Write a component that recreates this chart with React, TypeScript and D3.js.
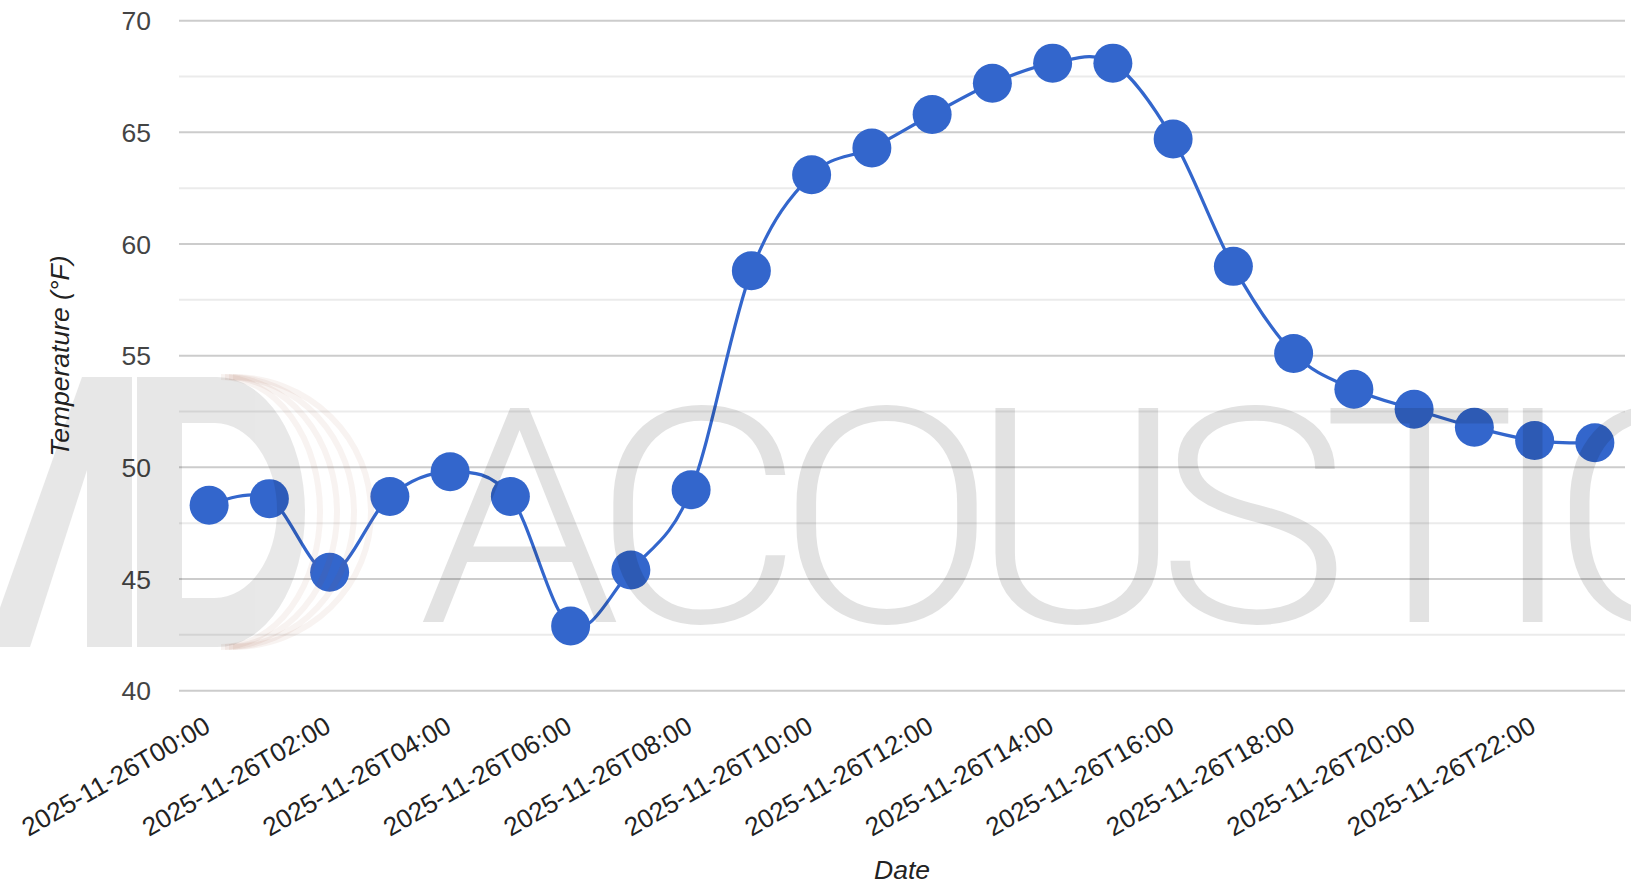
import React from "react";
import * as d3 from "d3";

const categories: string[] = [
  "2025-11-26T00:00", "2025-11-26T01:00", "2025-11-26T02:00", "2025-11-26T03:00",
  "2025-11-26T04:00", "2025-11-26T05:00", "2025-11-26T06:00", "2025-11-26T07:00",
  "2025-11-26T08:00", "2025-11-26T09:00", "2025-11-26T10:00", "2025-11-26T11:00",
  "2025-11-26T12:00", "2025-11-26T13:00", "2025-11-26T14:00", "2025-11-26T15:00",
  "2025-11-26T16:00", "2025-11-26T17:00", "2025-11-26T18:00", "2025-11-26T19:00",
  "2025-11-26T20:00", "2025-11-26T21:00", "2025-11-26T22:00", "2025-11-26T23:00",
];
const temperatures: number[] = [
  48.3, 48.6, 45.3, 48.7, 49.8, 48.7, 42.9, 45.4, 49.0, 58.8, 63.1, 64.3,
  65.8, 67.2, 68.1, 68.1, 64.7, 59.0, 55.1, 53.5, 52.6, 51.8, 51.2, 51.1,
];
const yTicks: number[] = [40, 45, 50, 55, 60, 65, 70];
const yMinorTicks: number[] = [42.5, 47.5, 52.5, 57.5, 62.5, 67.5];
const xTickLabels: string[] = categories.filter((_, i) => i % 2 === 0);
const xTitle = "Date";
const yTitle = "Temperature (°F)";
const watermarkText = "ACOUSTICS";

const W = 1631;
const H = 886;
const FONT = "'Liberation Sans', Arial, sans-serif";

export default function App() {
  const x = d3.scaleBand<string>().domain(categories).range([179, 1625]);
  const y = d3.scaleLinear().domain([40, 70]).range([690.7, 20.7]);
  const cx = (c: string) => (x(c) as number) + x.bandwidth() / 2;

  const pts: [number, number][] = categories.map((c, i) => [cx(c), y(temperatures[i])]);
  const line = d3.line().curve(d3.curveCardinal.tension(0))(pts) as string;

  return (
    <svg
      width={W}
      height={H}
      style={{ position: "absolute", left: 0, top: 0, background: "#fff" }}
      fontFamily={FONT}
    >
      <rect x={0} y={0} width={W} height={H} fill="#fff" />
      {yMinorTicks.map((t) => (
        <line key={"m" + t} x1={179} x2={1625} y1={y(t)} y2={y(t)} stroke="#ebebeb" strokeWidth={2} />
      ))}
      {yTicks.map((t) => (
        <line key={"g" + t} x1={179} x2={1625} y1={y(t)} y2={y(t)} stroke="#cccccc" strokeWidth={2} />
      ))}
      {yTicks.map((t) => (
        <text key={"yl" + t} x={151} y={y(t) + 9.5} textAnchor="end" fontSize={26.5} fill="#444">
          {t}
        </text>
      ))}
      {xTickLabels.map((c) => (
        <text
          key={"xl" + c}
          transform={`translate(${cx(c) + 3},731) rotate(-30)`}
          textAnchor="end"
          fontSize={26}
          fill="#222"
        >
          {c}
        </text>
      ))}
      <text x={902} y={879} textAnchor="middle" fontSize={26.5} fontStyle="italic" fill="#222">
        {xTitle}
      </text>
      <text
        transform={`translate(69,356) rotate(-90)`}
        textAnchor="middle"
        fontSize={26.5}
        fontStyle="italic"
        fill="#222"
      >
        {yTitle}
      </text>

      <path d={line} fill="none" stroke="#3366cc" strokeWidth={3.2} />
      {pts.map((p, i) => (
        <circle key={"p" + i} cx={p[0]} cy={p[1]} r={19.5} fill="#3366cc" />
      ))}

      {/* watermark overlay */}
      <g pointerEvents="none">
        <g fill="none" stroke="rgb(150,80,60)" strokeOpacity={0.07} strokeWidth={6}>
          {[1, 2, 3, 4].map((i) => (
            <path key={"arc" + i} d={`M${217 + i * 4},377 A${86 + i * 13},135 0 0 1 ${217 + i * 4},647`} />
          ))}
        </g>
        <g fill="#000" opacity={0.09}>
          <path d="M-14,647 L30,647 L87,470 L87,377 L82,377 Z" />
          <rect x={87} y={377} width={45} height={270} />
          <path
            fillRule="evenodd"
            d="M137,377 H217 A88,135 0 0 1 217,647 H137 Z M182,423 H215 A62,87.5 0 0 1 215,598 H182 Z"
          />
        </g>
        <text
          x={418}
          y={622}
          fontFamily="Roboto, 'Open Sans', sans-serif"
          fontWeight={300}
          fontSize={301}
          fill="#000"
          opacity={0.11}
          transform="translate(418,0) scale(1.08,1) translate(-418,0)"
          letterSpacing={-25}
        >
          {watermarkText}
        </text>
      </g>
    </svg>
  );
}
